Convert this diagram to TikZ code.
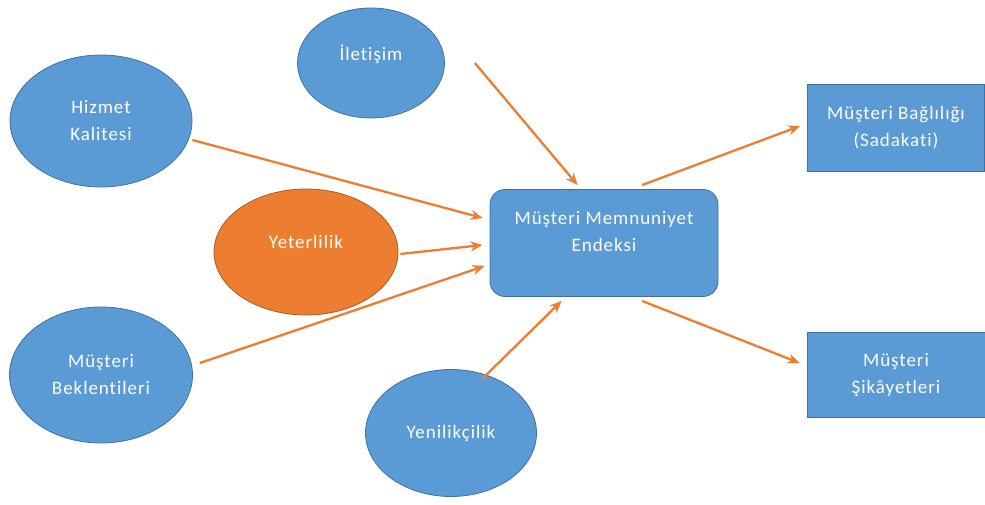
\documentclass[tikz,border=0pt]{standalone}
\usepackage{fontspec}
\setmainfont[LetterSpace=5,Ligatures=NoCommon]{Carlito}
\usepackage{tikz}
\usetikzlibrary{shapes.geometric,arrows.meta,positioning}
\definecolor{blu}{HTML}{5B9BD5}
\definecolor{bluedge}{HTML}{41719C}
\definecolor{orng}{HTML}{ED7D31}
\definecolor{orngedge}{HTML}{AE5A21}

\begin{document}
\begin{tikzpicture}[x=1pt,y=1pt,
    factor/.style={ellipse, draw=bluedge, fill=blu, text=white, line width=0.8pt,
                   inner sep=0pt, align=center, font=\fontsize{19}{27}\selectfont},
    core/.style={rectangle, draw=bluedge, fill=blu, text=white, line width=0.8pt,
                 rounded corners=15pt, align=center, text depth=24pt,
                 font=\fontsize{19}{27}\selectfont},
    outcome/.style={rectangle, draw=bluedge, fill=blu, text=white, line width=0.8pt,
                    align=center, font=\fontsize{19}{27}\selectfont},
    arr/.style={draw=orng, line width=2.3pt, -{Stealth[length=12pt,width=10pt]}},
]
\useasboundingbox (0,0) rectangle (985,504);

\node[factor,text depth=20pt,minimum width=147,minimum height=110] (ilet) at (371,441) {İletişim};
\node[factor,minimum width=182,minimum height=132] (hizmet) at (101,383) {Hizmet\\Kalitesi};
\node[factor,fill=orng,draw=orngedge,text depth=20pt,minimum width=184,minimum height=126] (yeter) at (306,252) {Yeterlilik};
\node[factor,minimum width=183,minimum height=136] (bekl) at (101,129) {Müşteri\\Beklentileri};
\node[factor,minimum width=171,minimum height=127] (yenil) at (451,71) {Yenilikçilik};

\node[core,minimum width=228,minimum height=107] (mme) at (604,261) {Müşteri Memnuniyet\\Endeksi};

\node[outcome,minimum width=177,minimum height=87] (bagl) at (896,376) {Müşteri Bağlılığı\\(Sadakati)};
\node[outcome,minimum width=178,minimum height=85] (sikayet) at (896,129) {Müşteri\\Şikâyetleri};

% inputs
\draw[arr] ([xshift=30]ilet.east) -- ([xshift=88,yshift=4]mme.north west);
\draw[arr] ([yshift=-19]hizmet.east) -- ([xshift=-7,yshift=25]mme.west);
\draw[arr] ([xshift=2,yshift=-2]yeter.east) -- ([xshift=-7,yshift=-2]mme.west);
\draw[arr] ([xshift=7,yshift=12]bekl.east) -- ([xshift=-5,yshift=-23]mme.west);
\draw[arr] ([xshift=31,yshift=-10]yenil.north) -- ([xshift=72,yshift=-4]mme.south west);

% outputs
\draw[arr] ([xshift=38,yshift=4]mme.north) -- ([xshift=-7,yshift=2]bagl.west);
\draw[arr] ([xshift=38,yshift=-4]mme.south) -- ([xshift=-7,yshift=12]sikayet.west);

\end{tikzpicture}
\end{document}
